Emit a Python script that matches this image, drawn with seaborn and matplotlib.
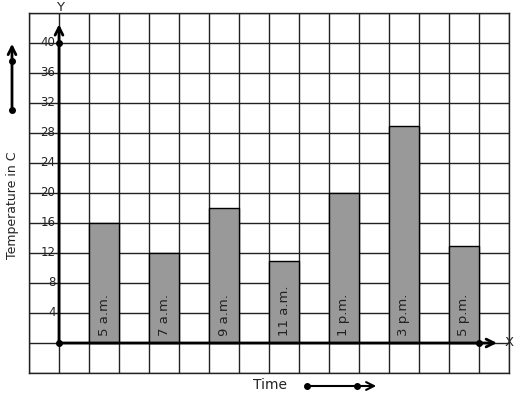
import numpy as np
import matplotlib
matplotlib.use("Agg")
import matplotlib.pyplot as plt
import seaborn as sns

# data
times = ["5 a.m.", "7 a.m.", "9 a.m.", "11 a.m.", "1 p.m.", "3 p.m.", "5 p.m."]
hours = [5, 7, 9, 11, 13, 15, 17]
temps = [16, 12, 18, 11, 20, 29, 13]
y_ticks = [4, 8, 12, 16, 20, 24, 28, 32, 36, 40]

sns.set_style("white")
plt.rcParams["font.family"] = ["DejaVu Sans"]

fig = plt.figure(figsize=(5.17, 3.99), dpi=100)
ax = fig.add_axes([29 / 517, 26 / 399, 480 / 517, 360 / 399])

# origin sits one cell left of the first bar
x0 = hours[0] - 1.5
ax.set_xlim(x0 - 1, x0 + 15)
ax.set_ylim(-4, 44)

# graph paper grid
ax.set_xticks(np.arange(x0 - 1, x0 + 15.01, 1))
ax.set_yticks(np.arange(-4, 44.01, 4))
ax.set_xticklabels([])
ax.set_yticklabels([])
ax.tick_params(length=0)
ax.grid(True, color="#222222", lw=1)
ax.set_axisbelow(True)
for s in ax.spines.values():
    s.set_color("#222222")
    s.set_linewidth(1)

# bars
sns.barplot(x=hours, y=temps, native_scale=True, width=0.5, color="#999999",
            saturation=1, edgecolor="black", linewidth=1, ax=ax, zorder=2)
ax.set_xlim(x0 - 1, x0 + 15)
ax.set_ylim(-4, 44)

for h, t in zip(hours, times):
    ax.text(h, 1, t, rotation=90, ha="center", va="bottom", fontsize=9.5,
            color="#222222", zorder=4)

# y tick labels next to the axis
for v in y_ticks:
    ax.text(x0 - 0.12, v, str(v), ha="right", va="center", fontsize=8.5,
            color="#222222", zorder=4)

# axes with arrows
ax.annotate("", xy=(x0, 42.5), xytext=(x0, 0),
            arrowprops=dict(arrowstyle="->", lw=2, color="black",
                            shrinkA=0, shrinkB=0, mutation_scale=14), zorder=5)
ax.annotate("", xy=(x0 + 14.6, 0), xytext=(x0, 0),
            arrowprops=dict(arrowstyle="->", lw=2, color="black",
                            shrinkA=0, shrinkB=0, mutation_scale=14), zorder=5)
ax.plot([x0, x0, x0 + 14], [0, 40, 0], "o", color="black", ms=4, zorder=6)
ax.text(x0 + 0.05, 44.7, "Y", ha="center", va="center", fontsize=9.5, clip_on=False)
ax.text(x0 + 15, 0, "X", ha="center", va="center", fontsize=9.5, clip_on=False)

# axis titles with arrows outside the grid
fig.text(13 / 517, 1 - 205 / 399, "Temperature in C", rotation=90,
         ha="center", va="center", fontsize=9, color="#222222")
fig.text(270 / 517, 1 - 385 / 399, "Time", ha="center", va="center",
         fontsize=10, color="#222222")

fig.add_artist(matplotlib.patches.FancyArrowPatch(
    (12 / 517, 1 - 110 / 399), (12 / 517, 1 - 41 / 399), transform=fig.transFigure,
    arrowstyle="->", lw=2, color="black", mutation_scale=14))
fig.add_artist(matplotlib.patches.FancyArrowPatch(
    (307 / 517, 1 - 386 / 399), (379 / 517, 1 - 386 / 399), transform=fig.transFigure,
    arrowstyle="->", lw=1.5, color="black", mutation_scale=14))
fig.add_artist(matplotlib.lines.Line2D(
    [12 / 517, 12 / 517], [1 - 110 / 399, 1 - 61 / 399], transform=fig.transFigure,
    ls="none", marker="o", ms=4, color="black"))
fig.add_artist(matplotlib.lines.Line2D(
    [307 / 517, 357 / 517], [1 - 386 / 399, 1 - 386 / 399], transform=fig.transFigure,
    ls="none", marker="o", ms=4, color="black"))

fig.savefig("out.png", dpi=100)
